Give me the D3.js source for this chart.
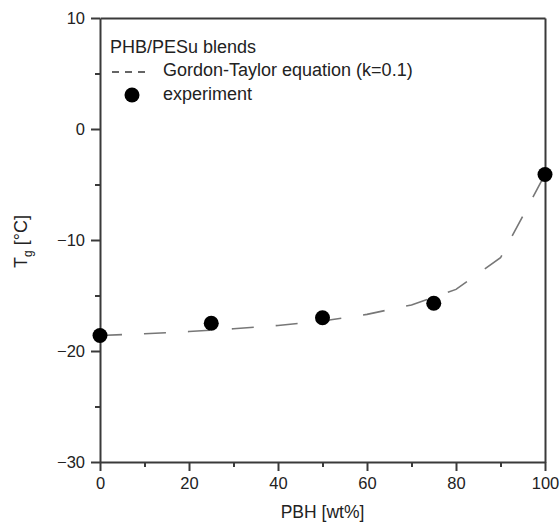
<!DOCTYPE html>
<html lang="en">
<head>
    <meta charset="UTF-8">
    <title>Tg of PHB/PESu blends</title>
    <script src="https://d3js.org/d3.v7.min.js"></script>
    <style>
        body {
            margin: 0;
            background: #fff;
            font-family: Arial, "Liberation Sans", sans-serif;
        }
        .axis path, .axis line {
            stroke: #3a3a3a;
            stroke-width: 2;
        }
        .axis text {
            font-size: 16.5px;
            fill: #222;
            font-family: Arial, "Liberation Sans", sans-serif;
        }
        .legend text {
            font-size: 18px;
            fill: #222;
        }
        .axis-label {
            font-size: 17.5px;
            fill: #222;
        }
    </style>
</head>
<body>
    <svg id="chart" width="560" height="523"></svg>
    <script>
        // experiment points
        const expWt = [0, 25, 50, 75, 100];
        const expTg = [-18.6, -17.5, -17.0, -15.7, -4.1];

        // Gordon-Taylor curve (k=0.1)
        const gtWt = [0, 10, 20, 30, 40, 50, 60, 70, 80, 90, 100];
        const gtTg = [-18.6, -18.45, -18.25, -18.0, -17.7, -17.3, -16.7, -15.85, -14.45, -11.6, -4.1];

        const xTicks = [0, 20, 40, 60, 80, 100];
        const yTicks = [-30, -20, -10, 0, 10];

        const margin = { top: 18, right: 15, bottom: 61, left: 100 };
        const width = 560 - margin.left - margin.right;
        const height = 523 - margin.top - margin.bottom;

        const svg = d3.select("#chart")
            .append("g")
            .attr("transform", `translate(${margin.left},${margin.top})`);

        const x = d3.scaleLinear().domain([0, 100]).range([0, width]);
        const y = d3.scaleLinear().domain([-30, 10]).range([height, 0]);

        // minor ticks
        svg.append("g")
            .attr("class", "axis")
            .attr("transform", `translate(0,${height})`)
            .call(d3.axisBottom(x).tickValues(d3.range(10, 100, 20)).tickSize(5).tickFormat(""))
            .select(".domain").remove();
        svg.append("g")
            .attr("class", "axis")
            .call(d3.axisLeft(y).tickValues(d3.range(-25, 10, 10)).tickSize(5).tickFormat(""))
            .select(".domain").remove();

        // major axes
        svg.append("g")
            .attr("class", "axis")
            .attr("transform", `translate(0,${height})`)
            .call(d3.axisBottom(x).tickValues(xTicks).tickSize(9).tickSizeOuter(0).tickPadding(6));

        svg.append("g")
            .attr("class", "axis")
            .call(d3.axisLeft(y).tickValues(yTicks).tickSize(9).tickSizeOuter(0).tickPadding(6));

        // top and right frame
        svg.append("g")
            .attr("class", "axis")
            .call(d3.axisTop(x).tickValues([]).tickSizeOuter(0));
        svg.append("g")
            .attr("class", "axis")
            .attr("transform", `translate(${width},0)`)
            .call(d3.axisRight(y).tickValues([]).tickSizeOuter(0));

        // axis labels
        svg.append("text")
            .attr("class", "axis-label")
            .attr("x", width / 2)
            .attr("y", height + 56)
            .attr("text-anchor", "middle")
            .text("PBH [wt%]");

        const yl = svg.append("text")
            .attr("class", "axis-label")
            .attr("transform", `translate(${-73},${y(-10) + 28}) rotate(-90)`)
            .attr("text-anchor", "start")
            .style("font-size", "18px");
        yl.append("tspan").text("T");
        yl.append("tspan").attr("dy", 5).style("font-size", "12px").text("g");
        yl.append("tspan").attr("dy", -5).text(" [°C]");

        // Gordon-Taylor curve
        const gtData = gtWt.map((w, i) => ({ w, t: gtTg[i] }));
        svg.append("path")
            .datum(gtData)
            .attr("fill", "none")
            .attr("stroke", "#777")
            .attr("stroke-width", 1.6)
            .attr("stroke-dasharray", "22,22")
            .attr("d", d3.line().x(d => x(d.w)).y(d => y(d.t)));

        // experimental points
        const expData = expWt.map((w, i) => ({ w, t: expTg[i] }));
        svg.selectAll(".pt")
            .data(expData)
            .enter()
            .append("circle")
            .attr("class", "pt")
            .attr("cx", d => x(d.w))
            .attr("cy", d => y(d.t))
            .attr("r", 7.5)
            .attr("fill", "#000");

        // legend
        const legend = svg.append("g").attr("class", "legend");
        legend.append("text").attr("x", 10).attr("y", 35).text("PHB/PESu blends");
        legend.append("line")
            .attr("x1", 12).attr("x2", 49)
            .attr("y1", 54).attr("y2", 54)
            .attr("stroke", "#333").attr("stroke-width", 1.6)
            .attr("stroke-dasharray", "7,6");
        legend.append("text").attr("x", 63).attr("y", 58).text("Gordon-Taylor equation (k=0.1)");
        legend.append("circle").attr("cx", 32).attr("cy", 77).attr("r", 7.5).attr("fill", "#000");
        legend.append("text").attr("x", 63).attr("y", 82).text("experiment");
    </script>
</body>
</html>
